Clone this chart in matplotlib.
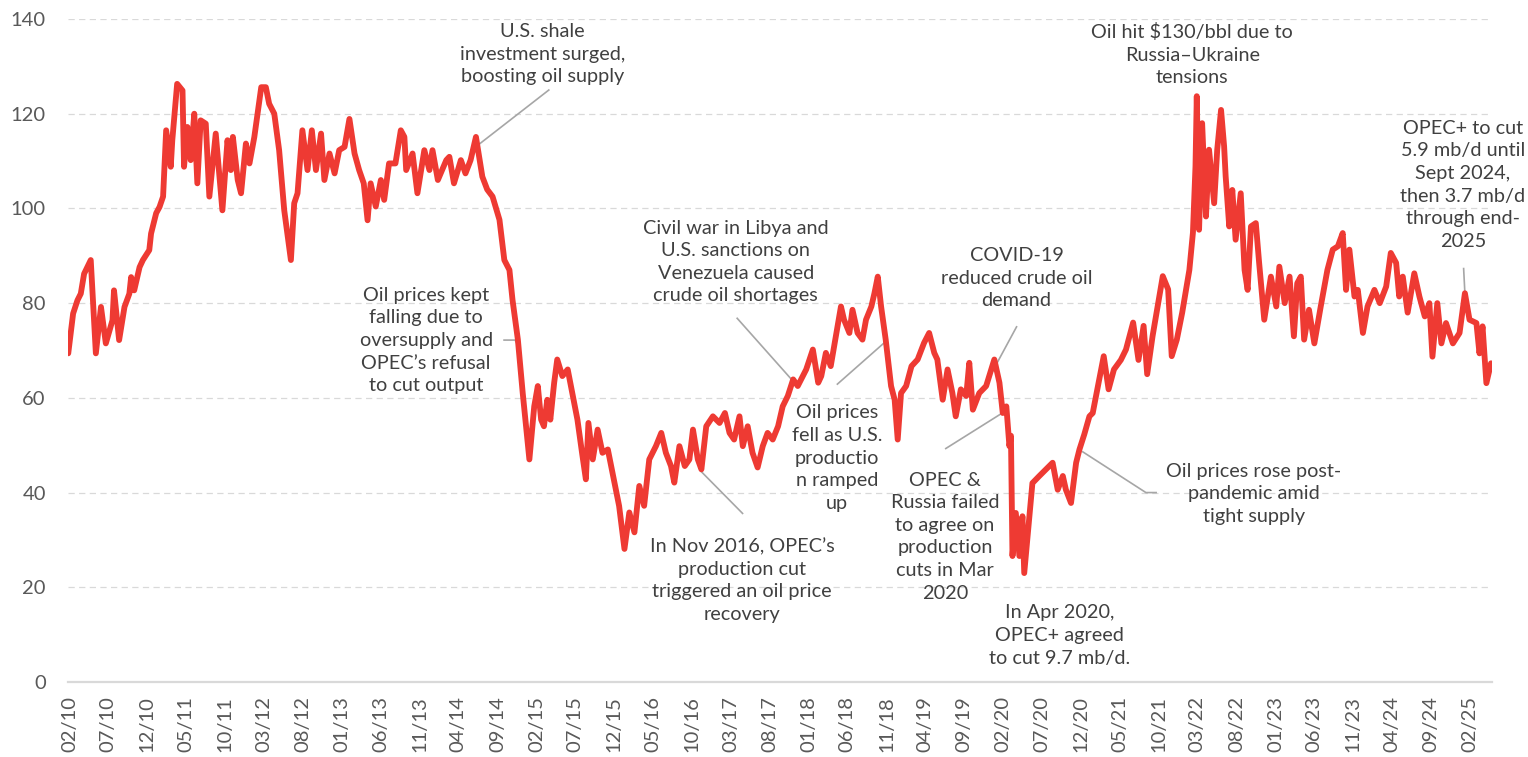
import matplotlib
matplotlib.use("Agg")
import matplotlib.pyplot as plt
import pandas as pd

plt.rcParams['font.family'] = ['Lato', 'DejaVu Sans']

# ---------------- data ----------------
dates = [
    "2010-01-26", "2010-02-14", "2010-03-03", "2010-03-16", "2010-03-29", "2010-04-24", "2010-05-14",
    "2010-06-03", "2010-06-22", "2010-07-18", "2010-07-24", "2010-08-13", "2010-09-03", "2010-09-22",
    "2010-09-29", "2010-10-11", "2010-11-01", "2010-11-14", "2010-12-09", "2010-12-16",
    "2011-01-05", "2011-01-18", "2011-02-01", "2011-02-13", "2011-03-03", "2011-03-09", "2011-03-28",
    "2011-04-18", "2011-04-24", "2011-05-07", "2011-05-20", "2011-06-03", "2011-06-15", "2011-06-28",
    "2011-07-18", "2011-08-01", "2011-08-26", "2011-09-21", "2011-10-11", "2011-10-24", "2011-11-01",
    "2011-11-20", "2011-12-03", "2011-12-22",
    "2012-01-05", "2012-01-24", "2012-02-20", "2012-03-09", "2012-03-22", "2012-04-11", "2012-04-30",
    "2012-05-20", "2012-06-15", "2012-06-28", "2012-07-11", "2012-07-30", "2012-08-19", "2012-09-05",
    "2012-09-21", "2012-10-11", "2012-10-24", "2012-11-13", "2012-12-03", "2012-12-21",
    "2013-01-11", "2013-01-30", "2013-02-19", "2013-03-09", "2013-03-27", "2013-04-11", "2013-04-23",
    "2013-05-13", "2013-06-02", "2013-06-15", "2013-07-04", "2013-07-29", "2013-08-19", "2013-09-02",
    "2013-09-09", "2013-10-04", "2013-10-23", "2013-11-19", "2013-12-09", "2013-12-21",
    "2014-01-11", "2014-02-13", "2014-02-25", "2014-03-15", "2014-04-11", "2014-04-29", "2014-05-19",
    "2014-06-09", "2014-07-04", "2014-07-23", "2014-08-13", "2014-09-09", "2014-09-28", "2014-10-18",
    "2014-10-30", "2014-11-20", "2014-12-09",
    "2015-01-04", "2015-01-23", "2015-02-06", "2015-02-19", "2015-03-02", "2015-03-15", "2015-03-27",
    "2015-04-11", "2015-04-23", "2015-05-13", "2015-06-03", "2015-06-21", "2015-07-11", "2015-07-29",
    "2015-08-13", "2015-08-23", "2015-09-09", "2015-09-28", "2015-10-17", "2015-11-07", "2015-11-25",
    "2015-12-21",
    "2016-01-11", "2016-01-30", "2016-02-19", "2016-03-09", "2016-03-28", "2016-04-17", "2016-05-13",
    "2016-06-03", "2016-06-21", "2016-07-11", "2016-07-24", "2016-08-13", "2016-09-03", "2016-09-21",
    "2016-10-05", "2016-10-24", "2016-11-07", "2016-11-26", "2016-12-22",
    "2017-01-17", "2017-02-07", "2017-02-25", "2017-03-15", "2017-04-05", "2017-04-18", "2017-05-07",
    "2017-05-26", "2017-06-15", "2017-07-05", "2017-07-24", "2017-08-13", "2017-09-03", "2017-09-21",
    "2017-10-11", "2017-11-01", "2017-11-19", "2017-12-22",
    "2018-01-17", "2018-02-07", "2018-02-19", "2018-03-09", "2018-03-28", "2018-04-17", "2018-05-07",
    "2018-05-19", "2018-06-09", "2018-06-21", "2018-07-11", "2018-07-30", "2018-08-13", "2018-09-03",
    "2018-09-15", "2018-09-28", "2018-10-11", "2018-10-29", "2018-11-19", "2018-12-03", "2018-12-15",
    "2018-12-28",
    "2019-01-17", "2019-02-07", "2019-03-03", "2019-03-28", "2019-04-17", "2019-05-07", "2019-05-19",
    "2019-06-09", "2019-06-28", "2019-07-17", "2019-07-30", "2019-08-19", "2019-09-09", "2019-09-21",
    "2019-10-05", "2019-10-30", "2019-11-26", "2019-12-28",
    "2020-01-17", "2020-01-30", "2020-02-13", "2020-02-25", "2020-03-02",
    "2020-03-08", "2020-03-21", "2020-04-04", "2020-04-16", "2020-04-23", "2020-05-06", "2020-05-25",
    "2020-06-21", "2020-07-17", "2020-08-12", "2020-09-01", "2020-09-21", "2020-10-03", "2020-10-23",
    "2020-11-12", "2020-11-25", "2020-12-14",
    "2021-01-03", "2021-01-16", "2021-02-08", "2021-02-28", "2021-03-19", "2021-04-09", "2021-05-06",
    "2021-05-26", "2021-06-23", "2021-07-14", "2021-08-03", "2021-08-17", "2021-09-07", "2021-09-27",
    "2021-10-17", "2021-11-07", "2021-11-21", "2021-12-11",
    "2022-01-01", "2022-01-29", "2022-02-12", "2022-02-22", "2022-02-27", "2022-03-08", "2022-03-20",
    "2022-04-04", "2022-04-16", "2022-05-06", "2022-05-18", "2022-06-02", "2022-06-14", "2022-06-20",
    "2022-07-04", "2022-07-16", "2022-07-29", "2022-08-18", "2022-09-02", "2022-09-14", "2022-09-27",
    "2022-10-16", "2022-10-29", "2022-11-18", "2022-12-14",
    "2023-01-04", "2023-01-16", "2023-02-06", "2023-02-25", "2023-03-14", "2023-03-27", "2023-04-10",
    "2023-04-23", "2023-05-12", "2023-06-02", "2023-06-27", "2023-07-23", "2023-08-13", "2023-09-02",
    "2023-09-21", "2023-10-04", "2023-10-17", "2023-11-06", "2023-11-19", "2023-12-09", "2023-12-27",
    "2024-01-23", "2024-02-13", "2024-03-09", "2024-03-27", "2024-04-17", "2024-04-29", "2024-05-13",
    "2024-06-01", "2024-06-27", "2024-07-17", "2024-08-07", "2024-08-25", "2024-09-06", "2024-09-25",
    "2024-10-11", "2024-10-29", "2024-11-25", "2024-12-21",
    "2025-01-11", "2025-01-29", "2025-02-25", "2025-03-09", "2025-03-21", "2025-04-05", "2025-04-23",
    "2025-04-26",
]

prices = [
    69.4, 77.8, 80.6, 82.0, 86.2, 89.1, 69.4,
    79.2, 71.5, 76.4, 82.7, 72.2, 79.2, 82.0,
    85.5, 82.7, 87.6, 89.1, 91.2, 94.7,
    99.0, 100.3, 102.5, 116.5, 108.8, 114.4, 126.3,
    124.9, 108.8, 117.2, 110.2, 120.0, 105.3, 118.6,
    117.9, 102.5, 115.8, 99.6, 114.4, 108.1, 115.1,
    106.0, 103.2, 113.7,
    109.5, 115.1, 125.6, 125.6, 122.1, 120.0, 112.3,
    99.6, 89.1, 101.1, 103.2, 116.5, 108.1, 116.5,
    108.1, 115.8, 106.0, 111.6, 107.4, 112.3,
    113.0, 118.9, 111.6, 108.1, 105.3, 97.5, 105.3,
    100.4, 106.0, 101.8, 109.5, 109.5, 116.5, 115.1,
    108.1, 111.6, 103.2, 112.3, 108.1, 112.3,
    106.0, 110.2, 110.9, 105.3, 110.2, 107.4, 110.2,
    115.1, 106.7, 104.0, 102.5, 97.6, 89.1, 87.0,
    80.7, 72.3, 61.0,
    47.0, 58.2, 62.5, 55.4, 54.0, 59.6, 55.4,
    63.2, 68.1, 64.6, 66.0, 61.0, 55.4, 48.4,
    42.8, 54.7, 47.0, 53.3, 48.4, 49.1, 44.2,
    37.2,
    28.1, 35.8, 31.6, 41.4, 37.2, 47.0, 49.8,
    52.6, 48.4, 45.6, 42.1, 49.8, 45.6, 47.0,
    53.3, 47.0, 44.9, 54.0, 56.1,
    54.7, 56.8, 52.6, 51.2, 56.1, 49.8, 54.0,
    48.4, 45.3, 49.8, 52.6, 51.2, 54.0, 58.2,
    60.4, 63.9, 62.5, 66.0,
    70.2, 63.2, 64.6, 69.5, 66.7, 73.0, 79.3,
    76.5, 73.7, 78.6, 73.7, 72.3, 76.5, 79.3,
    82.1, 85.6, 79.3, 72.3, 62.5, 59.6, 51.2,
    61.0,
    62.5, 66.7, 68.1, 71.6, 73.7, 69.5, 68.1,
    59.6, 66.0, 61.0, 56.1, 61.8, 60.4, 67.4,
    57.5, 61.0, 62.5, 68.1,
    63.2, 56.8, 58.2, 49.8, 52.0,
    26.6, 35.7, 26.6, 35.0, 23.0, 30.8, 42.0,
    43.5, 44.9, 46.3, 40.6, 43.5, 40.6, 37.8,
    46.3, 49.1, 52.3,
    56.1, 56.8, 63.2, 68.8, 61.8, 66.0, 68.0,
    70.2, 75.9, 68.0, 75.2, 65.0, 73.0, 79.4,
    85.7, 82.9, 68.8, 72.3,
    78.0, 87.0, 94.9, 108.9, 123.7, 95.5, 118.0,
    98.3, 112.4, 101.1, 112.4, 120.8, 113.1, 106.8,
    96.2, 103.9, 93.4, 103.2, 87.0, 82.8, 96.2,
    96.9, 88.5, 76.5, 85.6,
    79.3, 87.7, 80.0, 85.6, 73.0, 84.2, 85.6,
    72.3, 78.6, 71.5, 79.3, 87.0, 91.3, 92.0,
    94.8, 82.8, 91.3, 81.4, 82.8, 73.7, 79.3,
    82.8, 80.0, 83.5, 90.6, 88.5, 81.4, 85.6,
    78.0, 86.3, 81.4, 77.2, 80.0, 68.7, 80.0,
    71.5, 75.8, 71.5, 73.7,
    82.1, 76.5, 75.8, 69.4, 75.1, 63.1, 67.3,
    66.7,
]

tick_labels = ["02/10", "07/10", "12/10", "05/11", "10/11", "03/12", "08/12", "01/13", "06/13",
               "11/13", "04/14", "09/14", "02/15", "07/15", "12/15", "05/16", "10/16", "03/17",
               "08/17", "01/18", "06/18", "11/18", "04/19", "09/19", "02/20", "07/20", "12/20",
               "05/21", "10/21", "03/22", "08/22", "01/23", "06/23", "11/23", "04/24", "09/24",
               "02/25"]
y_ticks = [0, 20, 40, 60, 80, 100, 120, 140]

# annotations: (text, text anchor (date, value), leader path [(date, value), ...])
annotations = [
    ("U.S. shale\ninvestment surged,\nboosting oil supply", ("2015-02-25", 132.6),
     [("2014-06-08", 113.0), ("2015-03-21", 125.0)]),
    ("Oil prices kept\nfalling due to\noversupply and\nOPEC\u2019s refusal\nto cut output", ("2013-11-26", 72.1),
     [("2014-09-27", 72.2), ("2014-11-09", 72.2), ("2014-11-24", 70.7)]),
    ("Civil war in Libya and\nU.S. sanctions on\nVenezuela caused\ncrude oil shortages", ("2017-03-21", 88.7),
     [("2017-03-27", 76.8), ("2017-11-06", 63.2)]),
    ("In Nov 2016, OPEC\u2019s\nproduction cut\ntriggered an oil price\nrecovery", ("2017-04-16", 21.5),
     [("2016-11-07", 44.4), ("2017-04-17", 35.6)]),
    ("Oil prices\nfell as U.S.\nproductio\nn ramped\nup", ("2018-04-21", 47.3),
     [("2018-04-23", 62.9), ("2018-10-29", 71.9)]),
    ("COVID-19\nreduced crude oil\ndemand", ("2020-03-24", 85.3),
     [("2020-03-24", 75.0), ("2019-11-12", 61.7)]),
    ("OPEC &\nRussia failed\nto agree on\nproduction\ncuts in Mar\n2020", ("2019-06-18", 30.7),
     [("2019-06-21", 49.3), ("2020-02-06", 57.1)]),
    ("In Apr 2020,\nOPEC+ agreed\nto cut 9.7 mb/d.", ("2020-09-08", 9.8), []),
    ("Oil prices rose post-\npandemic amid\ntight supply", ("2022-10-09", 39.7),
     [("2020-12-08", 48.6), ("2021-08-12", 40.0), ("2021-09-21", 40.0)]),
    ("Oil hit $130/bbl due to\nRussia\u2013Ukraine\ntensions", ("2022-02-09", 132.5), []),
    ("OPEC+ to cut\n5.9 mb/d until\nSept 2024,\nthen 3.7 mb/d\nthrough end-\n2025", ("2025-01-03", 105.0),
     [("2025-01-06", 87.3), ("2025-01-12", 81.0)]),
]

# ---------------- drawing ----------------
LINE_RED = "#EE3A33"
TEXT_DARK = "#404040"
TICK_GREY = "#595959"
GRID_GREY = "#D9D9D9"
LEADER_GREY = "#A6A6A6"

fig = plt.figure(figsize=(15.28, 7.57), dpi=100)
ax = fig.add_axes([68 / 1528, 1 - 682 / 757, (1492 - 68) / 1528, (682 - 19) / 757])

x = pd.to_datetime(dates)
ax.plot(x, prices, color=LINE_RED, lw=4.2, solid_joinstyle="round", solid_capstyle="round", zorder=3)

ax.set_ylim(0, 140)
ax.set_xlim(pd.Timestamp("2010-01-25"), pd.Timestamp("2025-04-27"))

ax.set_yticks(y_ticks)
ax.set_yticklabels([str(v) for v in y_ticks])
for v in y_ticks[1:]:
    ax.axhline(v, color=GRID_GREY, lw=0.9, ls=(0, (5, 3.5)), zorder=1)
ax.axhline(0, color=GRID_GREY, lw=1.6, zorder=2, clip_on=False)

tick_dates = [pd.Timestamp(year=2000 + int(t[3:]), month=int(t[:2]), day=1) for t in tick_labels]
ax.set_xticks(tick_dates)
ax.set_xticklabels(tick_labels, rotation=90, va="top", ha="center")

ax.tick_params(axis="both", length=0, colors=TICK_GREY, labelsize=14.5)
ax.tick_params(axis="y", pad=16)
ax.tick_params(axis="x", pad=10)
for s in ax.spines.values():
    s.set_visible(False)

for text, (tdate, tval), path in annotations:
    ax.text(pd.Timestamp(tdate), tval, text, ha="center", va="center", ma="center",
            fontsize=14.3, color=TEXT_DARK, linespacing=1.4, zorder=4)
    if path:
        px = [pd.Timestamp(p[0]) for p in path]
        py = [p[1] for p in path]
        ax.plot(px, py, color=LEADER_GREY, lw=1.2, zorder=2.5, clip_on=False)

fig.savefig("out.png", dpi=100)
